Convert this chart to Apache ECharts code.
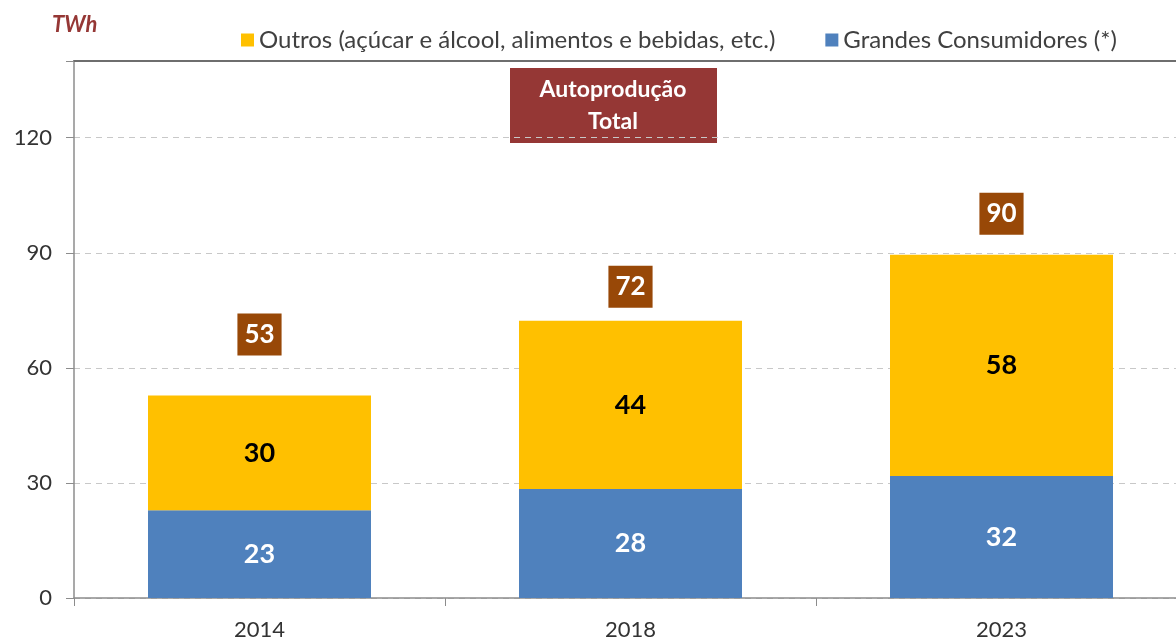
<!DOCTYPE html>
<html lang="pt">
<head>
    <meta charset="UTF-8">
    <title>Autoprodução Total</title>
    <script src="https://cdn.jsdelivr.net/npm/echarts@6/dist/echarts.min.js"></script>
    <style>
        html, body { margin: 0; padding: 0; background: #fff; overflow: hidden; }
        /* o grafico original continua alem da margem direita */
        #chart { width: 1190px; height: 641px; }
    </style>
</head>
<body>
<div id="chart"></div>
<script>
    // dados (TWh)
    var anos = ['2014', '2018', '2023'];
    var grandesConsumidores = [22.9, 28.4, 31.8];
    var outros = [29.9, 43.9, 57.7];
    var yTicks = [0, 30, 60, 90, 120];

    // distancia da caixa do total ao topo da barra
    var totalGap = [40, 13, 20];

    var totais = [];
    for (var i = 0; i < anos.length; i++) {
        totais.push({
            value: grandesConsumidores[i] + outros[i],
            label: { distance: totalGap[i] }
        });
    }

    var fonte = 'Lato, "Open Sans", sans-serif';
    var chart = echarts.init(document.getElementById('chart'));

    var option = {
        animation: false,
        textStyle: { fontFamily: fonte },
        grid: { left: 74, top: 61, right: 3, bottom: 43 },
        legend: {
            left: 236,
            top: 23,
            itemWidth: 13,
            itemHeight: 13,
            itemGap: 50,
            icon: 'rect',
            textStyle: { fontSize: 24, color: '#404040', fontFamily: fonte },
            data: ['Outros (açúcar e álcool, alimentos e bebidas, etc.)', 'Grandes Consumidores (*)']
        },
        graphic: [
            {
                type: 'text', left: 52, top: 14,
                style: { text: 'TWh', fill: '#953735', font: 'italic bold 22px ' + fonte }
            },
            {
                type: 'group', left: 510, top: 68,
                children: [
                    { type: 'rect', shape: { x: 0, y: 0, width: 207, height: 75 }, style: { fill: '#953735' } },
                    {
                        type: 'text', x: 103, y: 38,
                        style: {
                            text: 'Autoprodução\nTotal', fill: '#fff', font: 'bold 23px ' + fonte,
                            align: 'center', verticalAlign: 'middle', lineHeight: 32
                        }
                    }
                ]
            }
        ],
        xAxis: [
            {
                type: 'category',
                data: anos,
                axisLine: { lineStyle: { color: '#8c8c8c', width: 1.5 } },
                axisTick: { show: true, length: 8, lineStyle: { color: '#8c8c8c' } },
                axisLabel: { fontSize: 22, color: '#333', margin: 21 }
            },
            {
                type: 'category',
                data: anos,
                position: 'top',
                axisLine: { lineStyle: { color: '#6e6e6e', width: 2 } },
                axisTick: { show: false },
                axisLabel: { show: false }
            }
        ],
        yAxis: {
            type: 'value',
            min: 0,
            max: 140,
            interval: 30,
            axisLine: { show: true, lineStyle: { color: '#8c8c8c', width: 1.5 } },
            axisTick: { show: true, length: 8, lineStyle: { color: '#8c8c8c' } },
            axisLabel: {
                fontSize: 22, color: '#333', margin: 22,
                formatter: function (v) { return yTicks.indexOf(v) >= 0 ? String(v) : ''; }
            },
            splitLine: { lineStyle: { color: '#c8c8c8', type: [6, 5], width: 1.2 } }
        },
        series: [
            {
                name: 'Grandes Consumidores (*)',
                type: 'bar',
                stack: 'total',
                barWidth: 223,
                data: grandesConsumidores,
                itemStyle: { color: '#4f81bd' },
                label: {
                    show: true, position: 'inside', color: '#fff', fontSize: 27, fontWeight: 'bold',
                    formatter: function (p) { return Math.round(p.value); }
                }
            },
            {
                name: 'Outros (açúcar e álcool, alimentos e bebidas, etc.)',
                type: 'bar',
                stack: 'total',
                barWidth: 223,
                data: outros,
                itemStyle: { color: '#ffc000' },
                label: {
                    show: true, position: 'inside', color: '#000', fontSize: 27, fontWeight: 'bold',
                    formatter: function (p) { return Math.round(p.value); }
                }
            },
            {
                name: 'Total',
                type: 'scatter',
                data: totais,
                symbolSize: 0,
                itemStyle: { color: '#984807', opacity: 1 },
                label: {
                    show: true, position: 'top', color: '#fff', fontSize: 26, fontWeight: 'bold',
                    backgroundColor: '#984807', padding: [7, 7, 7, 7], lineHeight: 28,
                    formatter: function (p) { return Math.round(p.value); }
                }
            }
        ]
    };

    chart.setOption(option);
</script>
</body>
</html>
